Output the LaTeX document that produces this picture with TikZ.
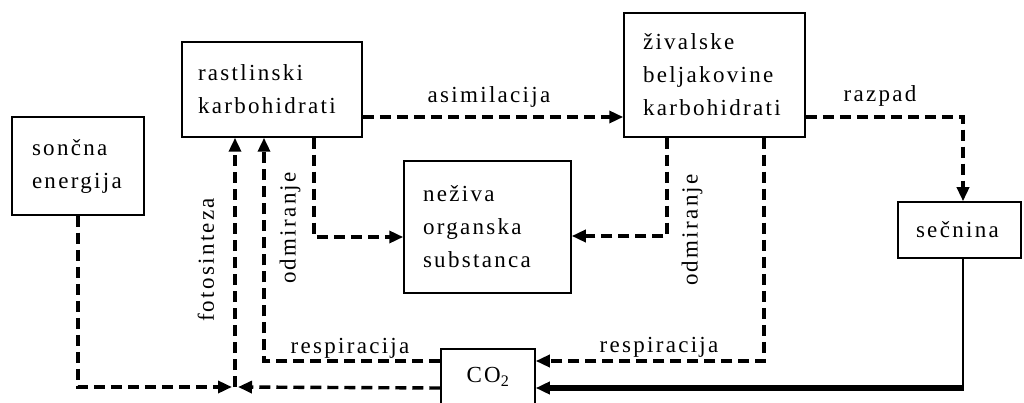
\documentclass[tikz,border=0pt]{standalone}
\usepackage{fontspec}
\setmainfont{Liberation Serif}[LetterSpace=10]
\usetikzlibrary{arrows.meta}
\begin{document}
\begin{tikzpicture}[x=1pt,y=-1pt,
  every node/.style={font=\fontsize{23}{33}\selectfont},
  box/.style={draw, line width=1.5pt, align=left, inner ysep=0pt,
    execute at begin node={\hyphenpenalty=10000\exhyphenpenalty=10000}},
  dar/.style={line width=3.4pt, dash pattern=on 11pt off 6pt, -{Triangle[length=14pt,width=12pt]}},
  lab/.style={inner sep=0pt, anchor=base},
  vlab/.style={inner sep=0pt, rotate=90},
  thinline/.style={line width=1.5pt},
  thickarrow/.style={line width=5.5pt, -{Triangle[length=14pt,width=12pt]}}]
\useasboundingbox (0,0) rectangle (1024,403);

% boxes
\node[box, text width=92pt, inner xsep=20pt, minimum height=98pt] (sun) at (78,166) {sončna\\energija};
\node[box, text width=148pt, inner xsep=16pt, minimum height=95pt] (rast) at (272,89.5) {rastlinski\\karbohidrati};
\node[box, text width=143pt, inner xsep=19pt, minimum height=124pt] (ziv) at (714.5,75) {živalske\\beljakovine\\karbohidrati};
\node[box, text width=129pt, inner xsep=19pt, minimum height=132pt] (nez) at (487.5,227) {neživa\\organska\\substanca};
\node[box, text width=87pt, inner xsep=18pt, minimum height=56pt] (sec) at (959.5,230) {sečnina};
\node[box, inner sep=0pt, minimum width=94pt, minimum height=55.5pt] (co2) at (488,376.75) {CO\textsubscript{2}};

% connectors
\draw[dar] (rast.east |- 0,117) -- (ziv.west |- 0,117);
\node[lab] (asim) at (489,103) {asimilacija};

\draw[dar] (ziv.east |- 0,117) -| (sec.north -| 963,0);
\node[lab] (razp) at (880,102) {razpad};

\coordinate (j) at (235,387);
\draw[dar] (sun.south) |- ([xshift=-3pt]j);
\draw[dar] (co2.west |- 0,388) -- ([xshift=3pt]j);
\draw[dar] (j) -- (rast.south -| j);
\node[vlab] (foto) at (206,260) {fotosinteza};

\draw[dar] (co2.west |- 0,361) -| (rast.south -| 264,0);
\node[lab] (resp1) at (350,353) {respiracija};

\draw[dar] (rast.south -| 314,0) |- (nez.west |- 0,237);
\node[vlab] (odm1) at (290,228) {odmiranje};

\draw[dar] (ziv.south -| 667,0) |- (nez.east |- 0,236);
\node[vlab] (odm2) at (692,230) {odmiranje};

\draw[dar] (ziv.south -| 764,0) |- (co2.east |- 0,361);
\node[lab] (resp2) at (659,352) {respiracija};

\coordinate (k) at (963,388);
\draw[thinline] (sec.south -| k) -- (k);
\draw[thickarrow] ([xshift=0.75pt]k) -- (co2.east |- k);
\end{tikzpicture}
\end{document}
